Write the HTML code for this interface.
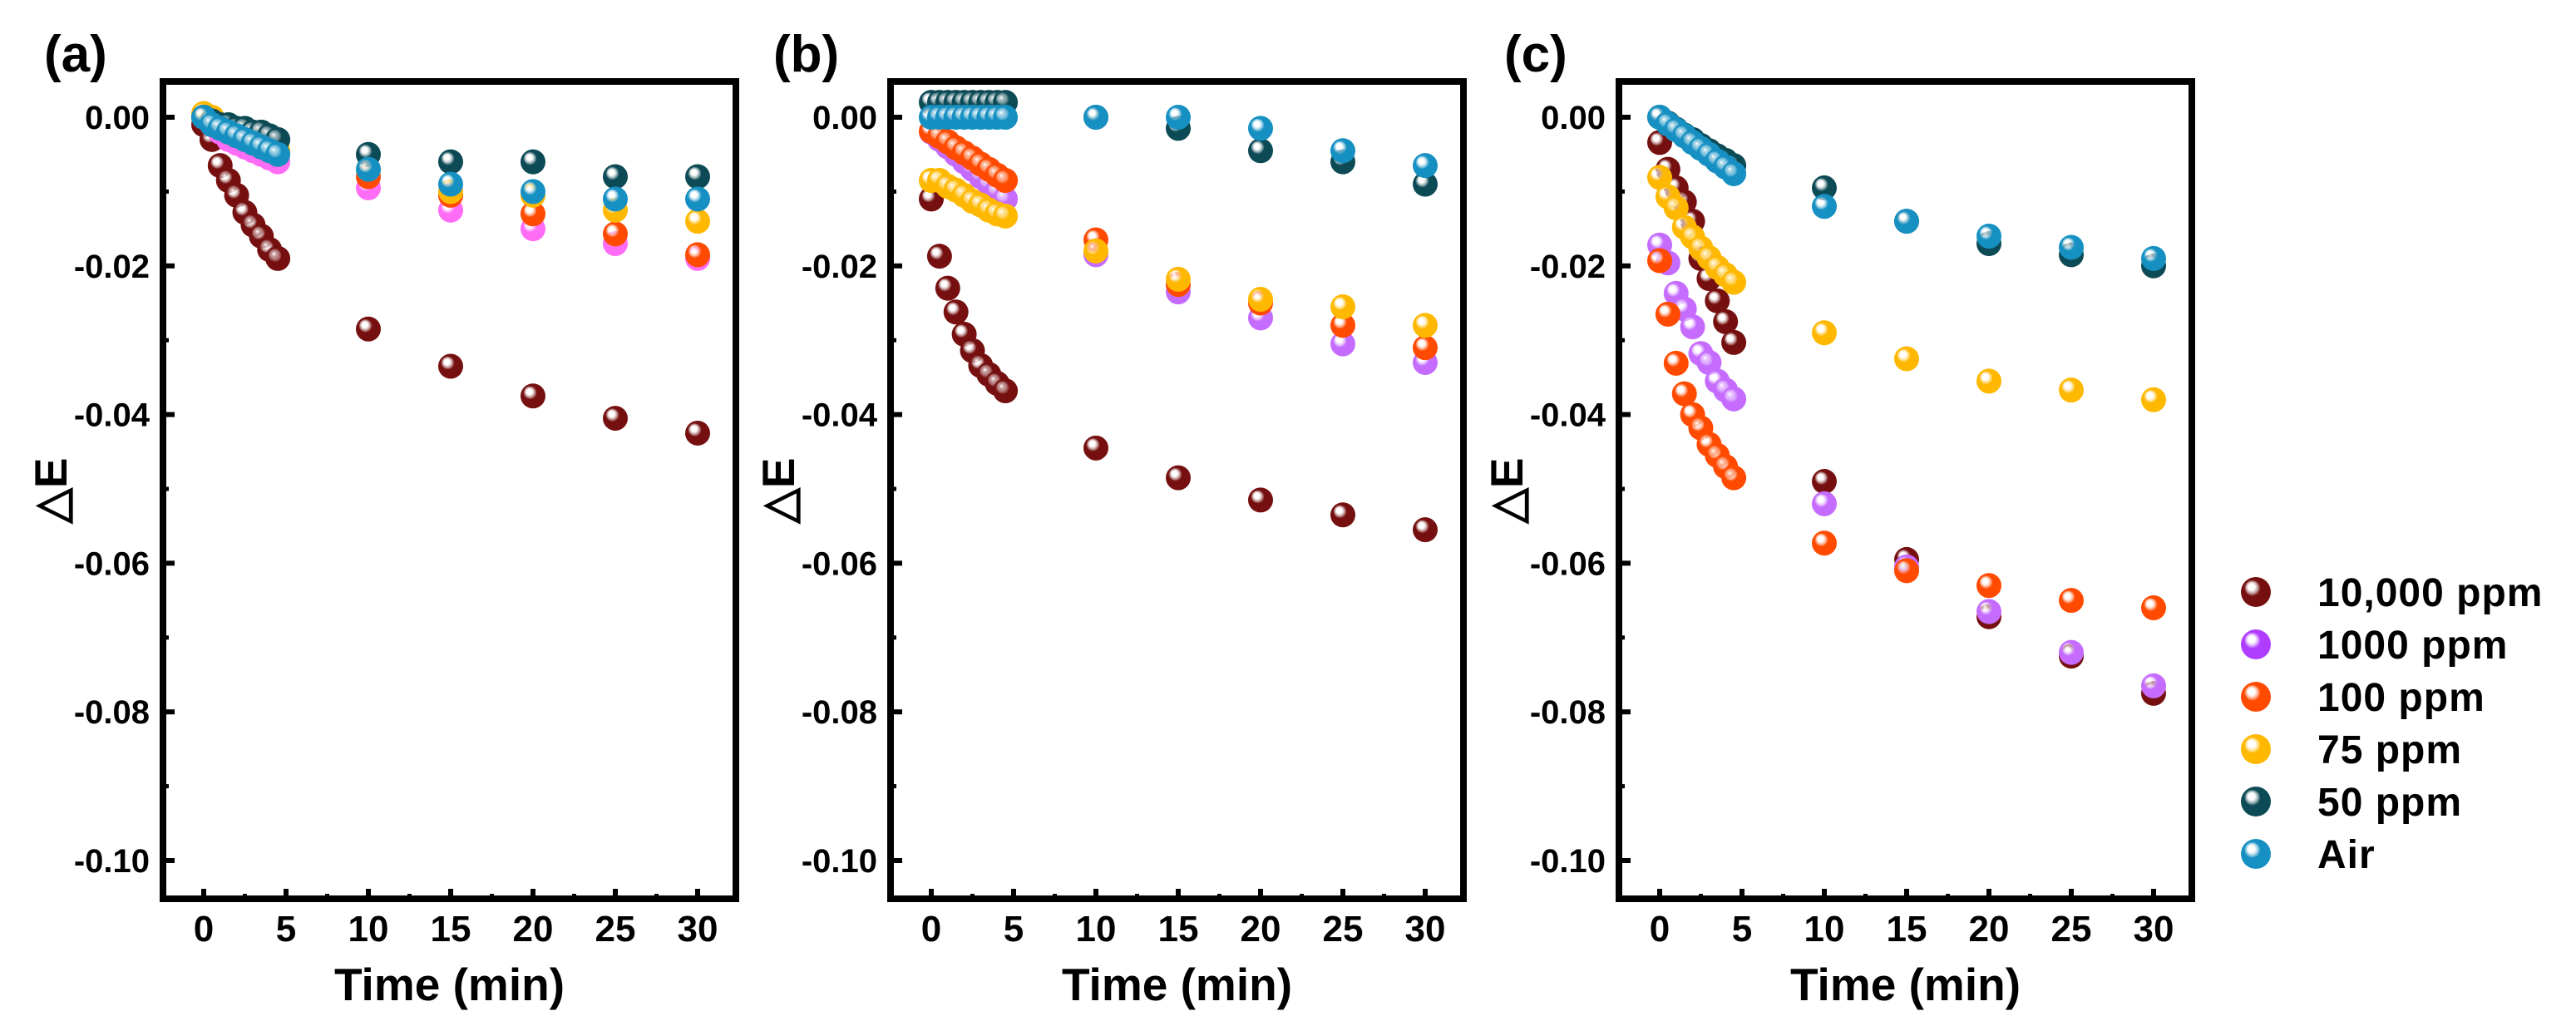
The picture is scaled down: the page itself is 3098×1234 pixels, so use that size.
<!DOCTYPE html>
<html><head><meta charset="utf-8"><style>
html,body{margin:0;padding:0;background:#fff;}
svg{display:block;}
text{font-family:"Liberation Sans",sans-serif;font-weight:bold;fill:#000;}
</style></head><body>
<svg id="chart" width="3098" height="1234" viewBox="0 0 3098 1234" xmlns="http://www.w3.org/2000/svg">
<defs id="defs"></defs>
</svg>
<script>
const times = [0,0.5,1,1.5,2,2.5,3,3.5,4,4.5,10,15,20,25,30];
const seriesNames = ["10,000 ppm","1000 ppm","100 ppm","75 ppm","50 ppm","Air"];
const panelLabels = ["(a)","(b)","(c)"];
const yTicks = [0,-0.02,-0.04,-0.06,-0.08,-0.10];
const yTickLabels = ["0.00","-0.02","-0.04","-0.06","-0.08","-0.10"];
const xTicks = [0,5,10,15,20,25,30];
// Panel (a)
const a10000 = [-0.001,-0.003,-0.0065,-0.0085,-0.0105,-0.0128,-0.0145,-0.016,-0.0178,-0.019,-0.0285,-0.0335,-0.0375,-0.0405,-0.0425];
const a1000 = [0,-0.001,-0.002,-0.003,-0.0035,-0.004,-0.0045,-0.005,-0.0055,-0.006,-0.0095,-0.0125,-0.015,-0.017,-0.019];
const a100 = [0,-0.001,-0.0015,-0.002,-0.0025,-0.003,-0.0035,-0.004,-0.0045,-0.005,-0.008,-0.0105,-0.013,-0.0157,-0.0185];
const a75 = [0.0005,0,-0.001,-0.0015,-0.002,-0.0025,-0.003,-0.0035,-0.004,-0.0045,-0.007,-0.010,-0.0105,-0.0125,-0.014];
const a50 = [0,-0.0005,-0.001,-0.001,-0.0015,-0.0015,-0.002,-0.002,-0.0025,-0.003,-0.005,-0.006,-0.006,-0.008,-0.008];
const aAir = [0,-0.001,-0.0015,-0.002,-0.0025,-0.003,-0.0035,-0.004,-0.0045,-0.005,-0.007,-0.009,-0.010,-0.011,-0.011];
// Panel (b)
const b10000 = [-0.011,-0.0187,-0.023,-0.0262,-0.0292,-0.0314,-0.0334,-0.0346,-0.0358,-0.0368,-0.0445,-0.0485,-0.0515,-0.0535,-0.0555];
const b1000 = [-0.002,-0.003,-0.004,-0.005,-0.006,-0.007,-0.008,-0.009,-0.010,-0.011,-0.0185,-0.0235,-0.027,-0.0305,-0.033];
const b100 = [-0.0019,-0.0026,-0.0033,-0.0041,-0.0048,-0.0055,-0.0063,-0.007,-0.0078,-0.0085,-0.0165,-0.0225,-0.025,-0.028,-0.031];
const b75 = [-0.0085,-0.0085,-0.0093,-0.0098,-0.0105,-0.0113,-0.0118,-0.0125,-0.013,-0.0133,-0.018,-0.0218,-0.0245,-0.0255,-0.028];
const b50 = [0.002,0.002,0.002,0.002,0.002,0.002,0.002,0.002,0.002,0.002,0,-0.0015,-0.0045,-0.006,-0.009];
const bAir = [0,0,0,0,0,0,0,0,0,0,0,0,-0.0015,-0.0045,-0.0065];
// Panel (c)
const c10000 = [-0.0034,-0.007,-0.0095,-0.0114,-0.014,-0.019,-0.0217,-0.0247,-0.0275,-0.0303,-0.049,-0.0595,-0.0672,-0.0725,-0.0775];
const c1000 = [-0.0172,-0.0196,-0.0237,-0.0258,-0.0282,-0.0318,-0.033,-0.0355,-0.0367,-0.0379,-0.052,-0.0605,-0.0665,-0.072,-0.0765];
const c100 = [-0.0193,-0.0265,-0.0331,-0.0372,-0.040,-0.0418,-0.044,-0.0455,-0.047,-0.0485,-0.0573,-0.061,-0.063,-0.065,-0.066];
const c75 = [-0.0081,-0.0107,-0.0122,-0.0148,-0.0161,-0.0176,-0.0189,-0.0202,-0.0212,-0.0222,-0.029,-0.0325,-0.0355,-0.0367,-0.038];
const c50 = [0,-0.0008,-0.0016,-0.0024,-0.003,-0.0038,-0.0045,-0.0052,-0.0058,-0.0065,-0.0095,-0.014,-0.017,-0.0185,-0.020];
const cAir = [0,-0.0009,-0.0017,-0.0025,-0.0034,-0.0042,-0.005,-0.0059,-0.0067,-0.0076,-0.012,-0.014,-0.016,-0.0175,-0.019];

const NS = "http://www.w3.org/2000/svg";
const svg = document.getElementById('chart');
const defs = document.getElementById('defs');
const colorsA = ["#761010","#ff6cf6","#ff4a00","#ffb800","#0c4a55","#1690c2"];
const colorsBC = ["#761010","#c56cff","#ff4a00","#ffb800","#0c4a55","#1690c2"];
const legendColors = ["#761010","#b03cff","#ff4a00","#ffb800","#0c4a55","#1690c2"];
const panels = [
  {left:192, label:panelLabels[0], labelX:53, data:[a10000,a1000,a100,a75,a50,aAir], colors:colorsA},
  {left:1067, label:panelLabels[1], labelX:930, data:[b10000,b1000,b100,b75,b50,bAir], colors:colorsBC},
  {left:1943, label:panelLabels[2], labelX:1809, data:[c10000,c1000,c100,c75,c50,cAir], colors:colorsBC}
];
const TOP=94, BOTTOM=1085, W=697, R=15;
function yS(v){ return 141 - v/0.01*89.4; }
let gid=0;
const gradCache={};
function grad(color){
  if(gradCache[color]) return gradCache[color];
  const id='g'+(gid++);
  const g=document.createElementNS(NS,'radialGradient');
  g.setAttribute('id',id);g.setAttribute('cx','0.45');g.setAttribute('cy','0.45');g.setAttribute('r','0.6');
  g.setAttribute('fx','0.33');g.setAttribute('fy','0.3');
  [[0,'#ffffff'],[0.18,'#ffffff'],[0.45,color],[1,color]].forEach(s=>{
    const st=document.createElementNS(NS,'stop');st.setAttribute('offset',s[0]);st.setAttribute('stop-color',s[1]);
    if(s[0]===0.18) st.setAttribute('stop-opacity','0.55');
    g.appendChild(st);});
  defs.appendChild(g);gradCache[color]=id;return id;
}
function el(tag,attrs,parent){const e=document.createElementNS(NS,tag);for(const k in attrs)e.setAttribute(k,attrs[k]);(parent||svg).appendChild(e);return e;}

panels.forEach((p,pi)=>{
  const g=el('g',{});
  
  
  const xS=t=>p.left+53+t*19.8;
  const lab=el('text',{x:p.labelX,y:86,'font-size':62},g);lab.textContent=p.label;
  
  
  yTicks.forEach((v,i)=>{
    const y=yS(v);
    const tk=el('line',{x1:p.left+4,x2:p.left+18,y1:y,y2:y,stroke:'#000','stroke-width':6},g);
    
    
    const t=el('text',{x:p.left-12,y:y+14,'font-size':40,'text-anchor':'end'},g);t.textContent=yTickLabels[i];
    
    
    if(i<yTicks.length-1){const ym=yS(v-0.01);
      const mt=el('line',{x1:p.left+4,x2:p.left+11,y1:ym,y2:ym,stroke:'#000','stroke-width':5},g);
      
      }
  });
  xTicks.forEach((v,i)=>{
    const x=xS(v);
    const tk=el('line',{x1:x,x2:x,y1:BOTTOM-4,y2:BOTTOM-16,stroke:'#000','stroke-width':6},g);
    
    
    const t=el('text',{x:x,y:1132,'font-size':44,'text-anchor':'middle'},g);t.textContent=String(v);
    
    
    if(i<xTicks.length-1){const xm=xS(v+2.5);
      const mt=el('line',{x1:xm,x2:xm,y1:BOTTOM-4,y2:BOTTOM-10,stroke:'#000','stroke-width':5},g);
      
      }
  });
  const xt=el('text',{x:p.left+W/2,y:1203,'font-size':55,'text-anchor':'middle'},g);xt.textContent='Time (min)';
  
  
  const yt=el('text',{x:0,y:0,'font-size':55,'text-anchor':'middle',transform:`translate(${p.left-112},${590}) rotate(-90)`},g);
  yt.textContent='△E';
  
  
  p.data.forEach((arr,si)=>{
    const sg=el('g',{},g);
    
    
    const gi=grad(p.colors[si]);
    arr.forEach((v,k)=>{
      const c=el('circle',{cx:xS(times[k]),cy:yS(v),r:R,fill:`url(#${gi})`},sg);
      
      
    });
  });
  const fr=el('rect',{x:p.left+4,y:TOP+4,width:W-8,height:BOTTOM-TOP-8,fill:'none',stroke:'#000','stroke-width':8},g);
  
  
});
const lg=el('g',{});


seriesNames.forEach((n,i)=>{
  const y=712+i*63;
  const e=el('g',{},lg);
  
  
  el('circle',{cx:2713,cy:y,r:18,fill:`url(#${grad(legendColors[i])})`},e);
  const t=el('text',{x:2787,y:y+17,'font-size':48,'letter-spacing':1},e);t.textContent=n;
});
</script>
</body></html>
